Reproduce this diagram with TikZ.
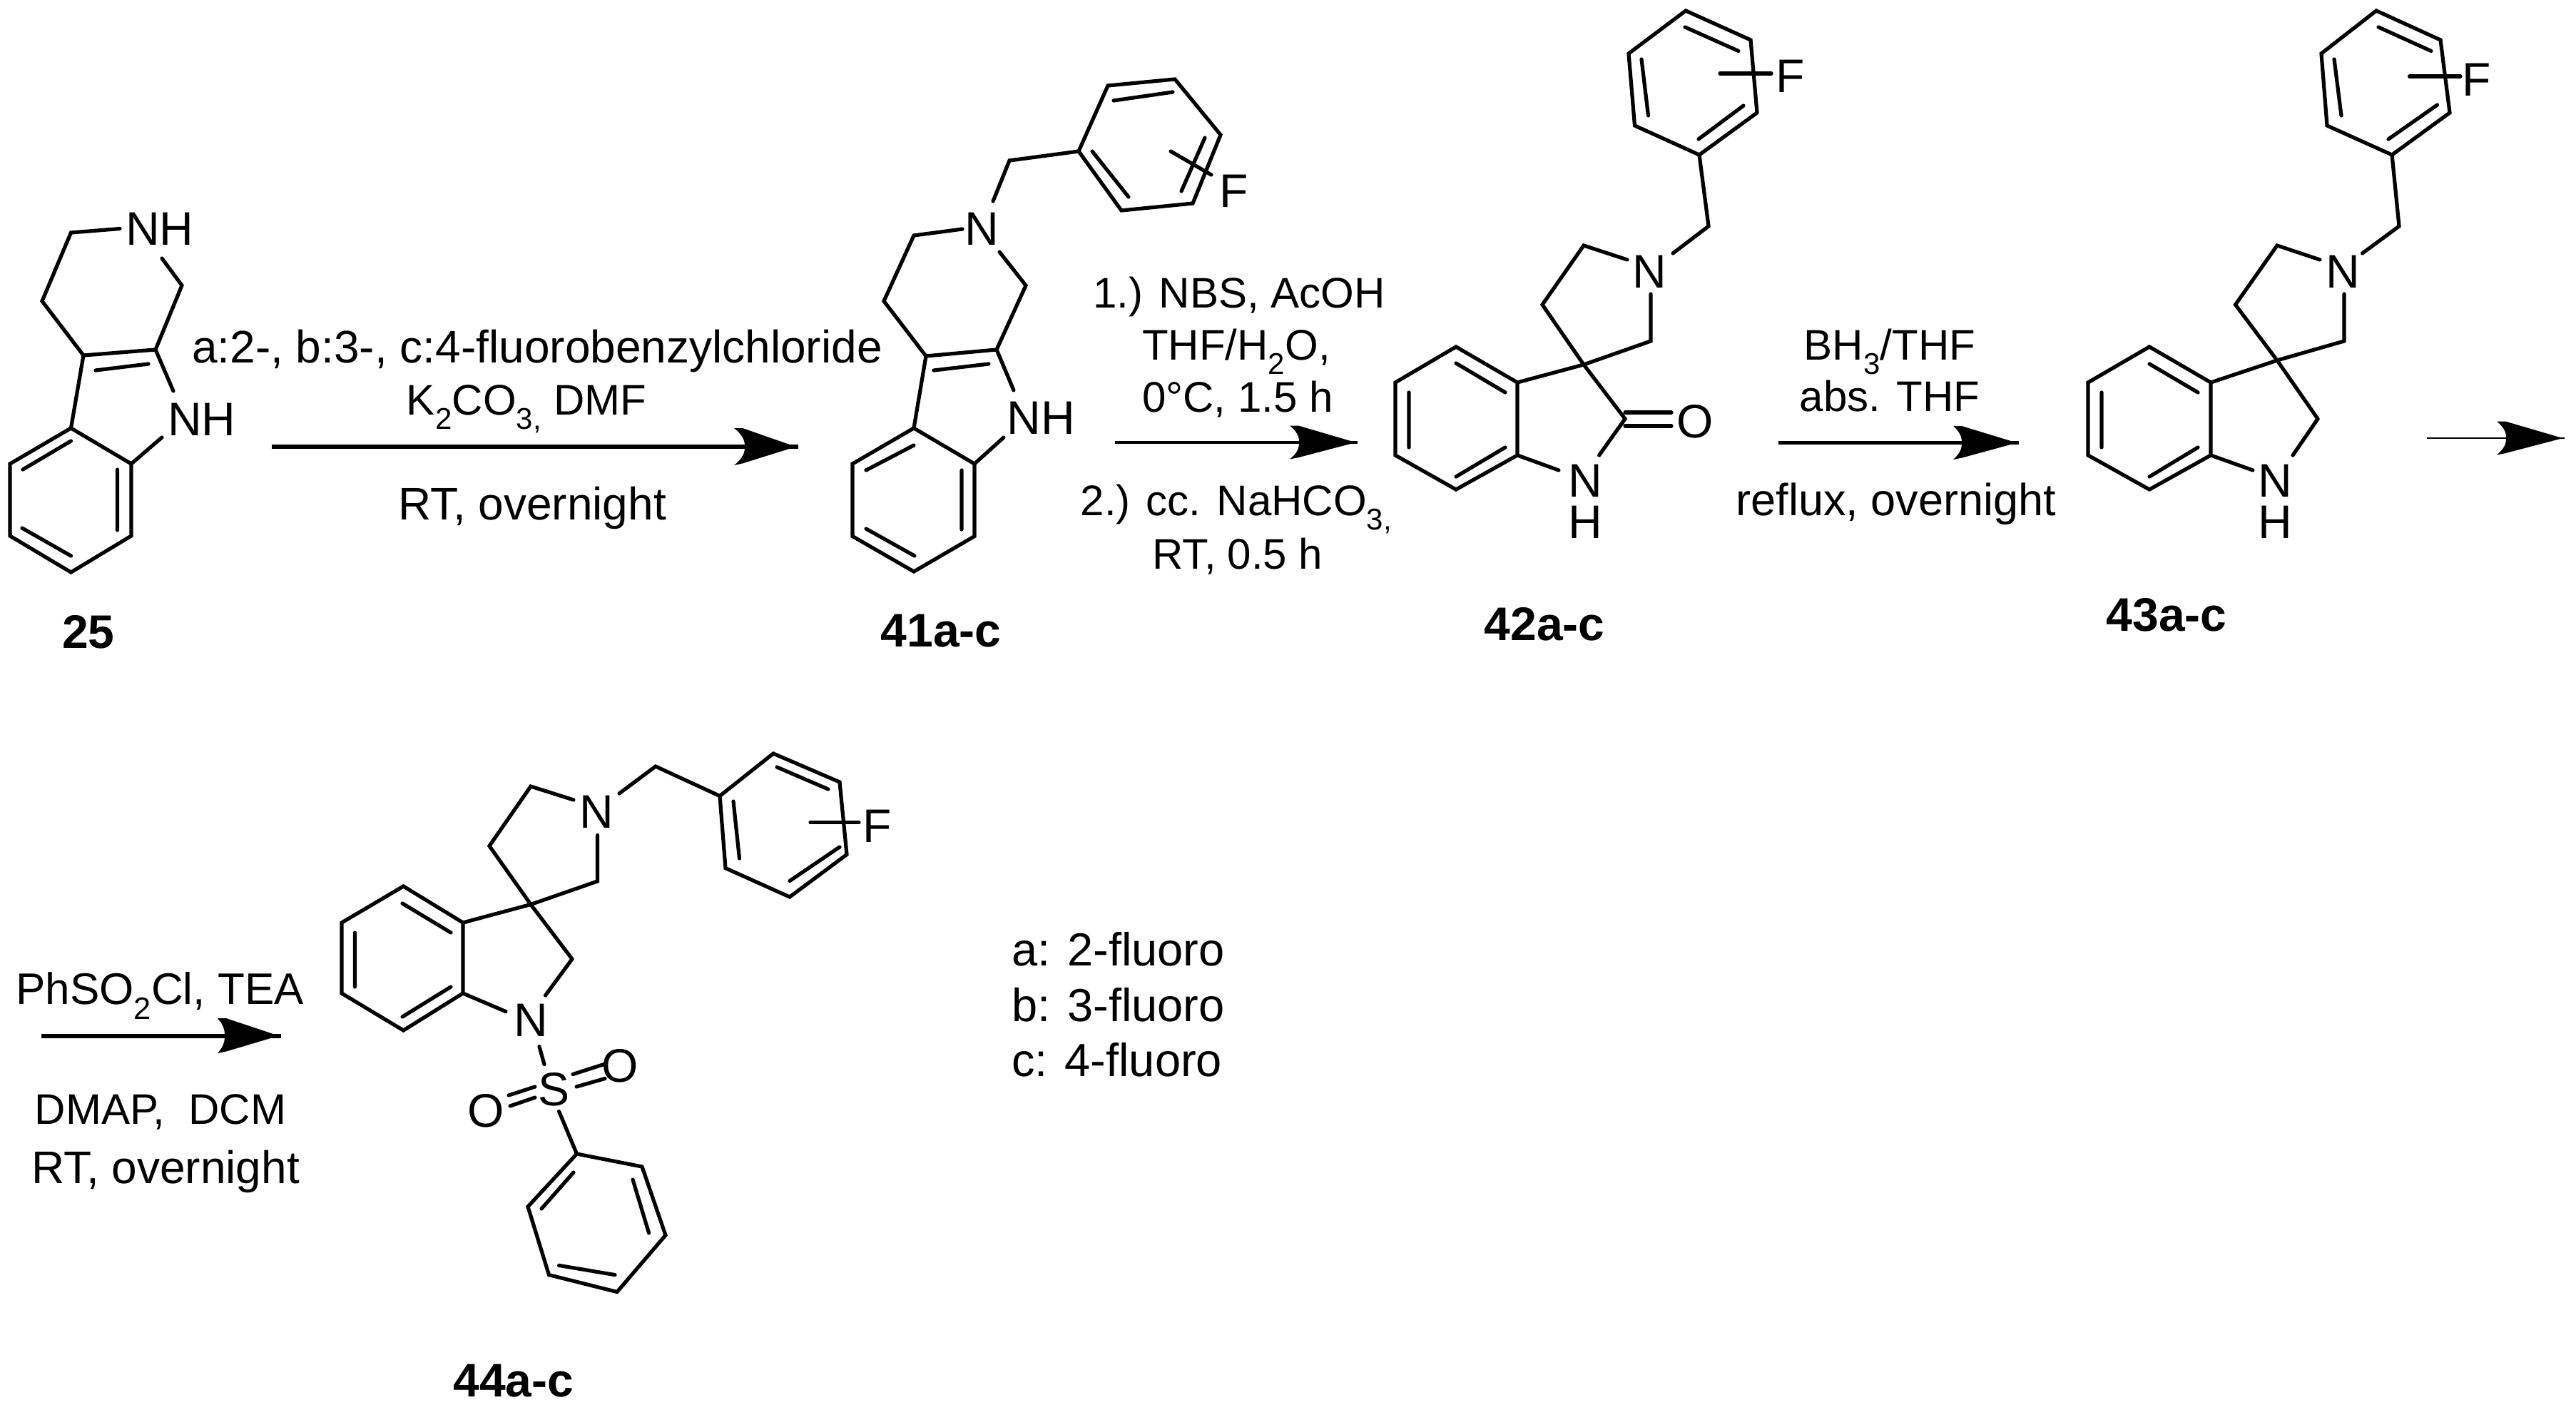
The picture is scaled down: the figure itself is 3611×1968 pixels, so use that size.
\documentclass[tikz,border=0pt]{standalone}
\usepackage{fontspec}
\setmainfont{Liberation Sans}
\tikzset{
  bond/.style={line width=5.2pt,line join=miter,line cap=round,black},
  atom/.style={anchor=base,inner sep=0pt,outer sep=0pt,font=\fontsize{66}{66}\selectfont},
  rxn/.style={anchor=base,inner sep=0pt,outer sep=0pt,font=\fontsize{60}{60}\selectfont},
  rxnw/.style={anchor=base,inner sep=0pt,outer sep=0pt,font=\fontsize{64}{64}\selectfont},
  cpd/.style={anchor=base,inner sep=0pt,outer sep=0pt,font=\fontsize{66}{66}\selectfont\bfseries},
  leg/.style={anchor=base west,inner sep=0pt,outer sep=0pt,font=\fontsize{65}{65}\selectfont}
}
% arrow: name, x start, x back of head, x notch, x tip, y, half width, shaft width
\newcommand{\rxnarrow}[8]{%
  \coordinate (#1s) at (#2,#6);
  \coordinate (#1t) at (#5,#6);
  \draw[line width=#8pt] (#1s) -- (#1t);
  \fill (#1t) -- (#5-8,#6-1.5) -- (#3+12,#6-#7) -- (#3,#6-#7)
     .. controls (#4,#6-#7*0.55) and (#4,#6-#7*0.2) .. (#4,#6)
     .. controls (#4,#6+#7*0.2) and (#4,#6+#7*0.55) .. (#3,#6+#7)
     -- (#3+12,#6+#7*0.9) -- (#5-8,#6+1.5) -- cycle;
}
\begin{document}
\begin{tikzpicture}[x=1pt,y=-1pt]
\useasboundingbox (0,0) rectangle (3611,1968);
\fill[white] (0,0) rectangle (3611,1968);

% ---------- 25
\draw[bond] (168,320.5) -- (99.5,326) -- (59,422) -- (117,498) -- (218,490) -- (255,400) -- (227,362);
\draw[bond] (218,490) -- (243,548);
\draw[bond] (117,498) -- (99.5,600);
\draw[bond] (99.5,600) -- (184,650) -- (184,751) -- (99.5,802) -- (14,751) -- (14,650) -- cycle;
\draw[bond] (184,650) -- (227,613);
\draw[bond] (99.5,618) -- (32,658) (164.5,658) -- (164.5,743) (31,740) -- (99.5,779) (134,519) -- (208,510);
\node[atom] (nh25a) at (224,343) {NH};
\node[atom] (nh25b) at (283,610) {NH};
\node[cpd] (c25) at (124,908) {25};

% ---------- arrow 1
\rxnarrow{aa}{381}{1029}{1044}{1119}{626}{26}{6}
\node[rxnw] (t1a) at (753,508) {a:2-, b:3-, c:4-fluorobenzylchloride};
\node[rxn] (t1b) at (738,581) {K\textsubscript{2}CO\textsubscript{3,} DMF};
\node[rxnw] (t1c) at (746,728) {RT, overnight};

% ---------- 41a-c
\draw[bond] (1349,321) -- (1281,330) -- (1239,422) -- (1298,499) -- (1397,490) -- (1438,400) -- (1401,353);
\draw[bond] (1392,282) -- (1415,225) -- (1512,212);
\draw[bond] (1512,212) -- (1553,120) -- (1647,111) -- (1711,189) -- (1672,285) -- (1572,295) -- cycle;
\draw[bond] (1561,141) -- (1644,129) (1689,193) -- (1656,268) (1531,212) -- (1582,276);
\draw[bond] (1641,212) -- (1698,245);
\draw[bond] (1309,519) -- (1386,510);
\draw[bond] (1397,490) -- (1421,547);
\draw[bond] (1298,499) -- (1281,600);
\draw[bond] (1281,600) -- (1366,650) -- (1366,751.5) -- (1281,801) -- (1195,751.5) -- (1195,650) -- cycle;
\draw[bond] (1366,650) -- (1407,613);
\draw[bond] (1281,624) -- (1214,659) (1348,659) -- (1348,742) (1214,741) -- (1282,779);
\node[atom] (n41) at (1376,343) {N};
\node[atom] (f41) at (1730,290) {F};
\node[atom] (nh41) at (1459,608) {NH};
\node[cpd] (c41) at (1319,906) {41a-c};

% ---------- arrow 2
\rxnarrow{ab}{1563}{1808}{1821}{1903}{620}{23.5}{4.5}
\node[rxn] (t2a) at (1737,431) {1.) NBS, AcOH};
\node[rxn] (t2b) at (1733,504) {THF/H\textsubscript{2}O,};
\node[rxn] (t2c) at (1735,577) {0°C, 1.5 h};
\node[rxn] (t2d) at (1733,722) {2.) cc. NaHCO\textsubscript{3,}};
\node[rxn] (t2e) at (1735,797) {RT,\hspace{0.27em}0.5 h};

% ---------- 42a-c
\draw[bond] (2041,486) -- (2127,536) -- (2127,638) -- (2041,686) -- (1956,638) -- (1956,536) -- cycle;
\draw[bond] (2041,509) -- (2110,550) (1975,550) -- (1975,627) (2041,668) -- (2110,627);
\draw[bond] (2127,536) -- (2220,511) -- (2314,478) -- (2314,412);
\draw[bond] (2281,364) -- (2220,344) -- (2162,427) -- (2220,511) -- (2278,587);
\draw[bond] (2345,355) -- (2395,317) -- (2382,217);
\draw[bond] (2382,217) -- (2463,158) -- (2454,56) -- (2363,15) -- (2283,75) -- (2291.5,176) -- cycle;
\draw[bond] (2381,195) -- (2444,148) (2362,38) -- (2437,71.5) (2301,83) -- (2310.5,162);
\draw[bond] (2411,103) -- (2483,103);
\draw[bond] (2278,578) -- (2343,578) (2278,597) -- (2343,597);
\draw[bond] (2278,587) -- (2241.6,638);
\draw[bond] (2127,638) -- (2185,659);
\node[atom] (n42) at (2312,403) {N};
\node[atom] (f42) at (2510,129) {F};
\node[atom] (o42) at (2376.5,613) {O};
\node[atom] (n42b) at (2222.6,696) {N};
\node[atom] (h42b) at (2222.6,754) {H};
\node[cpd] (c42) at (2165,897) {42a-c};

% ---------- arrow 3
\rxnarrow{ac}{2493}{2738}{2750}{2830}{620.5}{23.5}{4.5}
\node[rxn] (t3a) at (2649,504) {BH\textsubscript{3}/THF};
\node[rxn] (t3b) at (2649,576) {abs. THF};
\node[rxn,font=\fontsize{63}{63}\selectfont] (t3c) at (2658,722) {reflux, overnight};

% ---------- 43a-c
\draw[bond] (3013,486) -- (3099,536) -- (3099,638) -- (3013,686) -- (2927,638) -- (2927,536) -- cycle;
\draw[bond] (3013,510) -- (3081,550) (2946,550) -- (2946,627) (3013,668) -- (3081,627);
\draw[bond] (3099,536) -- (3192,505) -- (3286,478) -- (3286,412);
\draw[bond] (3252,364) -- (3192,344) -- (3133.5,427) -- (3192,505) -- (3249,587);
\draw[bond] (3311.5,355) -- (3363,317) -- (3353,217);
\draw[bond] (3353,217) -- (3434,158) -- (3421,56) -- (3331,15) -- (3254,75) -- (3262,176) -- cycle;
\draw[bond] (3348,195) -- (3416.5,147) (3334,38) -- (3408,71.5) (3272,83) -- (3282,162);
\draw[bond] (3377.5,107) -- (3449,107);
\draw[bond] (3249,587) -- (3214,638);
\draw[bond] (3099,638) -- (3158,659);
\node[atom] (n43) at (3284,403) {N};
\node[atom] (f43) at (3472,134) {F};
\node[atom] (n43b) at (3189.5,696) {N};
\node[atom] (h43b) at (3189.5,754) {H};
\node[cpd] (c43) at (3037,884) {43a-c};

% ---------- arrow 4
\rxnarrow{ad}{3402}{3500}{3513}{3595}{614}{23.5}{2}

% ---------- arrow 5
\rxnarrow{ae}{58}{305}{315}{394}{1451.5}{24.5}{6}
\node[rxn,font=\fontsize{62}{62}\selectfont] (t5a) at (224,1407) {PhSO\textsubscript{2}Cl, TEA};
\node[rxn] (t5b) at (225,1575) {DMAP,\ \ DCM};
\node[rxnw] (t5c) at (232,1658) {RT, overnight};

% ---------- 44a-c
\draw[bond] (565.5,1242) -- (649,1293) -- (649,1392) -- (565.5,1444) -- (479,1392) -- (479,1293) -- cycle;
\draw[bond] (564,1266) -- (632,1307) (497.5,1307) -- (497.5,1383) (564,1425) -- (632,1383);
\draw[bond] (649,1293) -- (744,1267.5) -- (837.5,1235) -- (837.5,1170.5);
\draw[bond] (804,1121) -- (744,1102) -- (686,1185.5) -- (744,1267.5) -- (802,1344);
\draw[bond] (868,1112) -- (919,1074) -- (1009,1115.5);
\draw[bond] (1009,1115.5) -- (1084,1056) -- (1177,1096) -- (1187,1197.5) -- (1107,1257) -- (1017,1216.6) -- cycle;
\draw[bond] (1089,1075) -- (1161,1106) (1028,1123) -- (1036.5,1203) (1107,1234.5) -- (1177,1187);
\draw[bond] (1136,1152.6) -- (1204,1152.6);
\draw[bond] (802,1344) -- (764.5,1395);
\draw[bond] (649,1392) -- (709,1417.6);
\draw[bond] (756,1466.6) -- (763,1491.7);
\draw[bond] (803,1505.5) -- (846,1491.7) (808,1523) -- (848,1511.5);
\draw[bond] (713,1535) -- (750,1523) (715,1550) -- (750,1538);
\draw[bond] (783.6,1557.5) -- (808.5,1617);
\draw[bond] (808.5,1617) -- (900,1635) -- (933,1731) -- (865,1810.5) -- (769.5,1786.6) -- (740,1691) -- cycle;
\draw[bond] (804,1643) -- (759,1694) (887,1653) -- (909.6,1728) (783.6,1773.4) -- (862,1786.6);
\node[atom] (n44) at (836,1160) {N};
\node[atom] (f44) at (1230,1180) {F};
\node[atom] (n44b) at (744,1452) {N};
\node[atom] (s44) at (777,1549) {S};
\node[atom] (o44a) at (869,1516) {O};
\node[atom] (o44b) at (681.6,1579) {O};
\node[cpd] (c44) at (720,1957) {44a-c};

% ---------- legend
\node[leg] (la) at (1418,1353) {a: 2-fluoro};
\node[leg] (lb) at (1418,1431) {b: 3-fluoro};
\node[leg] (lc) at (1418,1508) {c: 4-fluoro};
\end{tikzpicture}
\end{document}
